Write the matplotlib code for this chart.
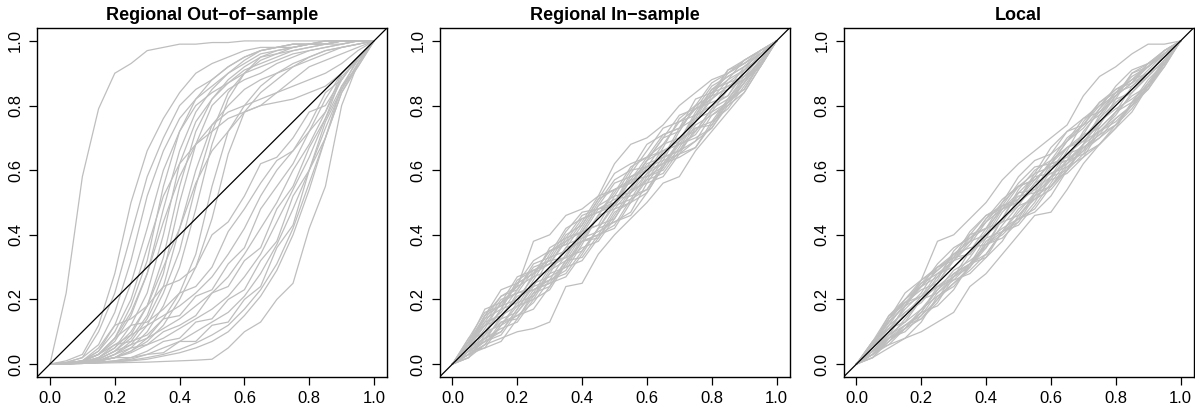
import matplotlib
matplotlib.use("Agg")
import matplotlib.pyplot as plt

plt.rcParams['font.family'] = ['Liberation Sans', 'DejaVu Sans']

titles = ["Regional Out\u2212of\u2212sample", "Regional In\u2212sample", "Local"]
tick_vals = [0.0, 0.2, 0.4, 0.6, 0.8, 1.0]
tick_labels = ["0.0", "0.2", "0.4", "0.6", "0.8", "1.0"]

# common x grid of the curves (nominal level)
x_grid = [0.0, 0.05, 0.1, 0.15, 0.2, 0.25, 0.3, 0.35, 0.4, 0.45, 0.5,
          0.55, 0.6, 0.65, 0.7, 0.75, 0.8, 0.85, 0.9, 0.95, 1.0]

# ---- Panel 1: Regional out-of-sample (estimated) ----
out_A = [0, .22, .58, .79, .90, .93, .97, .98, .99, .99, .995, .995, 1, 1, 1, 1, 1, 1, 1, 1, 1]
out_B1 = [0, .01, .03, .12, .28, .50, .66, .76, .84, .90, .93, .95, .97, .98, .98, .99, .99, .99, 1, 1, 1]
out_B2 = [0, .005, .02, .10, .22, .40, .58, .70, .80, .85, .88, .92, .95, .97, .98, .99, .99, 1, 1, 1, 1]
out_B3 = [0, .005, .02, .06, .16, .32, .52, .66, .76, .82, .86, .90, .93, .96, .97, .98, .99, .99, 1, 1, 1]
out_B4 = [0, .003, .01, .04, .12, .25, .42, .60, .72, .80, .84, .87, .90, .92, .94, .96, .97, .98, .99, 1, 1]
out_B5 = [0, .003, .01, .03, .08, .18, .32, .55, .72, .82, .88, .92, .95, .97, .98, .99, .99, 1, 1, 1, 1]
out_B6 = [0, .002, .008, .03, .07, .15, .28, .48, .66, .78, .85, .90, .94, .97, .98, .98, .99, .99, 1, 1, 1]
out_B7 = [0, .002, .006, .02, .05, .12, .22, .40, .62, .75, .82, .87, .91, .93, .95, .97, .98, .99, .99, 1, 1]
out_B8 = [0, .002, .005, .02, .05, .10, .18, .33, .55, .72, .82, .88, .92, .95, .96, .97, .98, .99, 1, 1, 1]
out_B9 = [0, .002, .005, .015, .04, .08, .15, .28, .50, .68, .80, .85, .88, .90, .93, .95, .97, .98, .99, 1, 1]
out_B10 = [0, .001, .004, .01, .03, .07, .14, .24, .42, .60, .74, .80, .85, .88, .90, .92, .94, .96, .98, .99, 1]
out_B11 = [0, .001, .003, .01, .03, .06, .12, .22, .35, .55, .72, .84, .90, .94, .96, .98, .99, .99, 1, 1, 1]
out_B12 = [0, .001, .003, .01, .02, .05, .10, .18, .30, .48, .68, .82, .90, .95, .97, .98, .99, 1, 1, 1, 1]
out_B13 = [0, .003, .01, .04, .10, .20, .36, .52, .62, .68, .72, .76, .78, .80, .81, .82, .84, .86, .90, .95, 1]
out_B14 = [0, .002, .008, .03, .08, .16, .28, .44, .58, .68, .74, .78, .80, .82, .84, .86, .88, .90, .93, .97, 1]
out_B15 = [0, .001, .004, .015, .04, .09, .18, .30, .42, .56, .66, .72, .78, .80, .84, .88, .92, .94, .96, .98, 1]
out_B16 = [0, .001, .003, .01, .02, .04, .08, .14, .22, .34, .55, .72, .80, .86, .90, .93, .95, .97, .98, .99, 1]
out_B17 = [0, .001, .003, .01, .02, .04, .07, .12, .20, .30, .45, .65, .78, .84, .88, .92, .95, .97, .98, .99, 1]
out_C1 = [0, .002, .01, .05, .12, .14, .18, .24, .26, .30, .40, .44, .52, .62, .64, .70, .78, .80, .88, .95, 1]
out_C2 = [0, .002, .01, .03, .08, .12, .13, .17, .22, .24, .30, .41, .48, .56, .63, .66, .74, .84, .88, .95, 1]
out_C3 = [0, .002, .008, .03, .06, .09, .12, .15, .18, .22, .27, .34, .42, .52, .60, .66, .72, .82, .90, .95, 1]
out_C4 = [0, .001, .006, .02, .06, .07, .09, .14, .15, .21, .23, .31, .36, .48, .55, .62, .72, .78, .90, .95, 1]
out_C5 = [0, .001, .005, .015, .04, .06, .08, .11, .14, .18, .22, .27, .34, .42, .50, .60, .68, .78, .88, .95, 1]
out_C6 = [0, .001, .004, .01, .03, .05, .06, .10, .12, .15, .22, .24, .32, .36, .48, .55, .67, .76, .89, .94, 1]
out_C7 = [0, .001, .003, .01, .02, .035, .06, .08, .11, .14, .17, .21, .27, .34, .44, .54, .64, .76, .86, .94, 1]
out_C8 = [0, .001, .003, .008, .02, .02, .04, .07, .08, .13, .14, .20, .23, .32, .38, .52, .60, .75, .85, .95, 1]
out_C9 = [0, .001, .002, .006, .01, .02, .03, .05, .07, .10, .13, .16, .21, .28, .37, .48, .60, .73, .85, .93, 1]
out_C10 = [0, .001, .002, .005, .01, .015, .03, .035, .07, .07, .12, .13, .20, .24, .36, .43, .60, .70, .86, .92, 1]
out_C11 = [0, .001, .002, .004, .008, .012, .02, .03, .045, .065, .09, .12, .17, .23, .31, .42, .56, .70, .84, .92, 1]
out_C12 = [0, .001, .002, .004, .007, .01, .015, .025, .035, .05, .07, .10, .15, .21, .29, .40, .54, .70, .84, .93, 1]
out_D = [0, .001, .002, .003, .004, .005, .006, .008, .01, .012, .015, .05, .10, .13, .20, .25, .42, .55, .80, .93, 1]

out_curves = [out_A, out_B1, out_B2, out_B3, out_B4, out_B5, out_B6, out_B7, out_B8,
              out_B9, out_B10, out_B11, out_B12, out_B13, out_B14, out_B15, out_B16,
              out_B17, out_C1, out_C2, out_C3, out_C4, out_C5, out_C6, out_C7, out_C8,
              out_C9, out_C10, out_C11, out_C12, out_D]

# ---- Panel 2: Regional in-sample (estimated) ----
in_curves = [
    [0, .07, .17, .19, .24, .38, .40, .46, .48, .52, .62, .68, .70, .74, .80, .84, .88, .90, .94, .97, 1],
    [0, .02, .06, .08, .10, .11, .13, .24, .25, .34, .40, .45, .50, .56, .58, .66, .72, .78, .84, .92, 1],
    [0, .06, .13, .20, .22, .24, .33, .41, .47, .48, .50, .59, .66, .73, .75, .77, .85, .89, .92, .96, 1],
    [0, .03, .06, .12, .15, .19, .26, .28, .35, .42, .44, .47, .56, .63, .65, .69, .77, .81, .85, .93, 1],
    [0, .05, .15, .21, .23, .30, .32, .33, .41, .49, .56, .58, .60, .62, .69, .78, .85, .87, .91, .95, 1],
    [0, .02, .08, .10, .17, .24, .26, .29, .37, .46, .48, .50, .53, .61, .69, .73, .74, .81, .87, .94, 1],
    [0, .06, .14, .17, .26, .29, .31, .38, .45, .47, .49, .57, .64, .71, .73, .82, .84, .88, .94, .97, 1],
    [0, .04, .05, .12, .18, .20, .23, .31, .38, .40, .42, .50, .57, .64, .66, .69, .73, .80, .87, .93, 1],
    [0, .07, .15, .18, .25, .32, .35, .38, .41, .49, .52, .53, .59, .67, .76, .80, .83, .90, .93, .97, 1],
    [0, .03, .07, .09, .16, .23, .25, .27, .34, .42, .49, .51, .54, .62, .65, .67, .74, .82, .88, .92, 1],
    [0, .06, .12, .19, .27, .29, .32, .40, .43, .51, .59, .62, .64, .68, .75, .79, .86, .89, .92, .96, 1],
    [0, .05, .08, .14, .16, .22, .30, .33, .35, .42, .50, .57, .58, .61, .69, .76, .78, .81, .87, .94, 1],
    [0, .07, .10, .12, .19, .28, .35, .37, .39, .46, .54, .57, .58, .60, .67, .75, .82, .86, .88, .94, 1],
    [0, .04, .11, .19, .22, .23, .25, .32, .40, .48, .51, .52, .54, .61, .69, .77, .80, .83, .91, .95, 1],
    [0, .08, .16, .18, .20, .27, .36, .39, .41, .43, .52, .60, .68, .71, .73, .76, .84, .91, .94, .97, 1],
    [0, .03, .06, .13, .14, .21, .29, .32, .33, .40, .48, .54, .56, .58, .65, .73, .75, .79, .86, .93, 1],
    [0, .06, .13, .15, .18, .26, .34, .42, .45, .47, .50, .58, .61, .63, .72, .80, .83, .85, .92, .96, 1],
    [0, .04, .07, .10, .17, .25, .27, .30, .38, .39, .46, .54, .62, .64, .66, .72, .79, .82, .85, .93, 1],
    [0, .07, .14, .21, .24, .27, .29, .36, .43, .51, .54, .56, .63, .70, .77, .79, .82, .88, .91, .97, 1],
    [0, .02, .09, .13, .15, .17, .24, .32, .36, .38, .45, .53, .57, .59, .66, .74, .77, .80, .84, .92, 1],
    [0, .05, .12, .16, .23, .31, .33, .35, .38, .46, .53, .61, .64, .66, .69, .77, .84, .86, .89, .95, 1],
    [0, .04, .08, .11, .13, .20, .28, .30, .32, .39, .47, .50, .58, .66, .68, .71, .78, .85, .88, .94, 1],
    [0, .06, .15, .23, .25, .28, .35, .37, .44, .52, .54, .56, .63, .70, .72, .80, .87, .90, .93, .96, 1],
    [0, .03, .10, .17, .19, .21, .28, .36, .38, .40, .43, .51, .59, .62, .64, .67, .75, .82, .89, .93, 1],
    [0, .06, .09, .17, .25, .28, .31, .33, .42, .50, .57, .60, .61, .64, .73, .79, .81, .83, .90, .96, 1],
    [0, .03, .05, .07, .14, .22, .24, .31, .39, .41, .44, .46, .53, .61, .68, .70, .73, .81, .88, .94, 1],
    [0, .08, .12, .14, .22, .29, .31, .39, .46, .48, .49, .55, .63, .66, .68, .75, .83, .91, .93, .96, 1],
    [0, .04, .07, .15, .21, .23, .26, .34, .41, .43, .45, .53, .61, .68, .70, .72, .79, .87, .89, .92, 1],
]

# ---- Panel 3: Local (estimated) ----
local_curves = [
    [0, .06, .15, .20, .26, .38, .40, .45, .50, .57, .62, .66, .70, .74, .83, .89, .92, .96, .99, .99, 1],
    [0, .02, .05, .08, .10, .13, .16, .24, .28, .34, .40, .46, .47, .54, .62, .68, .73, .78, .86, .92, 1],
    [0, .06, .12, .19, .23, .25, .32, .40, .46, .49, .51, .58, .65, .72, .76, .78, .84, .88, .92, .96, 1],
    [0, .03, .07, .11, .14, .20, .25, .29, .34, .41, .45, .48, .55, .62, .66, .70, .76, .80, .86, .93, 1],
    [0, .05, .14, .20, .24, .29, .33, .34, .40, .48, .55, .59, .61, .63, .68, .77, .84, .88, .90, .95, 1],
    [0, .02, .07, .11, .16, .23, .27, .30, .36, .45, .49, .51, .54, .60, .68, .72, .75, .80, .86, .93, 1],
    [0, .07, .13, .18, .25, .30, .32, .37, .44, .48, .50, .56, .63, .70, .74, .81, .85, .87, .93, .97, 1],
    [0, .04, .06, .11, .17, .21, .24, .30, .37, .41, .43, .49, .56, .63, .67, .70, .74, .79, .86, .93, 1],
    [0, .06, .14, .19, .24, .31, .36, .39, .42, .48, .53, .54, .58, .66, .75, .81, .84, .89, .92, .97, 1],
    [0, .03, .08, .10, .15, .22, .26, .28, .33, .41, .48, .52, .55, .61, .64, .68, .73, .81, .87, .93, 1],
    [0, .06, .13, .18, .26, .30, .33, .39, .44, .50, .58, .63, .65, .69, .74, .80, .85, .88, .93, .96, 1],
    [0, .04, .09, .13, .17, .23, .29, .32, .36, .43, .49, .56, .59, .62, .68, .75, .79, .82, .86, .94, 1],
    [0, .07, .11, .13, .20, .27, .34, .38, .40, .45, .53, .58, .59, .61, .66, .74, .81, .85, .89, .94, 1],
    [0, .04, .10, .18, .21, .24, .26, .31, .39, .47, .52, .53, .55, .60, .68, .76, .81, .84, .90, .95, 1],
    [0, .07, .15, .19, .21, .26, .35, .40, .42, .44, .51, .59, .67, .72, .74, .77, .83, .90, .93, .97, 1],
    [0, .03, .07, .12, .15, .20, .28, .31, .34, .41, .47, .53, .57, .59, .64, .72, .76, .80, .85, .93, 1],
    [0, .05, .12, .16, .19, .25, .33, .41, .46, .48, .51, .57, .62, .64, .71, .79, .84, .86, .91, .96, 1],
    [0, .04, .08, .11, .16, .24, .28, .31, .37, .40, .45, .53, .61, .65, .67, .71, .78, .83, .86, .93, 1],
    [0, .06, .13, .20, .25, .28, .30, .35, .42, .50, .55, .57, .62, .69, .76, .80, .83, .87, .92, .97, 1],
    [0, .02, .08, .12, .16, .18, .23, .31, .37, .39, .44, .52, .58, .60, .65, .73, .78, .81, .85, .92, 1],
    [0, .05, .11, .17, .22, .30, .34, .36, .37, .45, .54, .60, .63, .67, .70, .76, .83, .87, .90, .95, 1],
    [0, .04, .09, .12, .14, .19, .27, .31, .33, .38, .46, .51, .57, .65, .69, .72, .77, .84, .89, .94, 1],
    [0, .06, .14, .22, .26, .29, .34, .38, .45, .51, .55, .57, .62, .69, .73, .79, .86, .91, .93, .96, 1],
    [0, .03, .09, .16, .20, .22, .27, .35, .39, .41, .44, .50, .58, .63, .65, .68, .74, .81, .88, .93, 1],
    [0, .05, .10, .18, .24, .27, .32, .34, .41, .49, .56, .61, .62, .63, .72, .78, .82, .84, .89, .96, 1],
    [0, .03, .06, .08, .13, .21, .25, .30, .38, .42, .45, .47, .52, .60, .67, .71, .74, .80, .87, .94, 1],
    [0, .07, .11, .15, .21, .28, .32, .38, .45, .49, .50, .54, .62, .67, .69, .74, .82, .90, .92, .96, 1],
    [0, .04, .08, .14, .20, .24, .27, .33, .40, .44, .46, .52, .60, .67, .71, .73, .78, .86, .90, .93, 1],
]

panels = [out_curves, in_curves, local_curves]

W, H = 1195, 409
fig = plt.figure(figsize=(W / 100, H / 100), dpi=100)
lefts = [37, 439.5, 843.5]
for i, (curves, title) in enumerate(zip(panels, titles)):
    ax = fig.add_axes([lefts[i] / W, 1 - 377 / H, 350 / W, 349 / H])
    for y in curves:
        ax.plot(x_grid, y, color='#BEBEBE', lw=0.9, solid_joinstyle='miter')
    ax.plot([-0.04, 1.04], [-0.04, 1.04], color='black', lw=0.9)
    ax.set_xlim(-0.04, 1.04)
    ax.set_ylim(-0.04, 1.04)
    ax.set_xticks(tick_vals)
    ax.set_xticklabels(tick_labels)
    ax.set_yticks(tick_vals)
    ax.set_yticklabels(tick_labels, rotation=90, va='center')
    ax.tick_params(axis='both', direction='out', length=6, width=0.9,
                   labelsize=12, pad=4, colors='black')
    for s in ax.spines.values():
        s.set_linewidth(1.0)
    ax.set_title(title, fontsize=13, fontweight='bold', pad=6)

fig.savefig("out.png", dpi=100)
